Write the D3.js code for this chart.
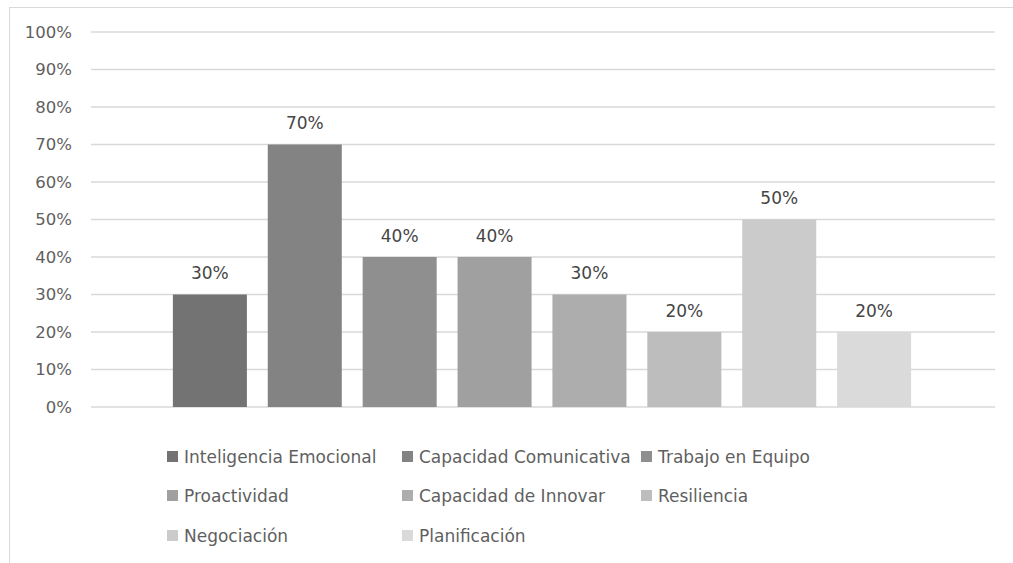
<!DOCTYPE html>
<html><head><meta charset="utf-8">
<script src="https://cdn.jsdelivr.net/npm/d3@7"></script>
<style>body{margin:0;background:#fff;}svg{display:block;font-family:"DejaVu Sans",sans-serif;}</style>
</head><body>
<svg id="c" width="1013" height="563"></svg>
<script>
const series = ["Inteligencia Emocional","Capacidad Comunicativa","Trabajo en Equipo","Proactividad","Capacidad de Innovar","Resiliencia","Negociación","Planificación"];
const values = [0.30,0.70,0.40,0.40,0.30,0.20,0.50,0.20];
const colors = ["#737373","#838383","#8f8f8f","#a0a0a0","#adadad","#bdbdbd","#cbcbcb","#dadada"];
const yTicks = [0,0.1,0.2,0.3,0.4,0.5,0.6,0.7,0.8,0.9,1.0];

const svg = d3.select("#c");
svg.append("rect").attr("x",9.5).attr("y",7.5).attr("width",1013).attr("height",563)
  .attr("fill","#fff").attr("stroke","#d9d9d9").attr("stroke-width",1);

const plotL = 91, plotR = 995, plotT = 32, plotB = 407;
const y = d3.scaleLinear().domain([0,1]).range([plotB, plotT]);
const x = d3.scaleBand().domain(series).range([152, 932]).padding(0.22);

const grid = svg.append("g");
grid.selectAll("line").data(yTicks).join("line")
  .attr("x1",plotL).attr("x2",plotR)
  .attr("y1",d=>y(d)).attr("y2",d=>y(d))
  .attr("stroke","#d9d9d9").attr("stroke-width",1.3);

const yAxis = d3.axisLeft(y).tickValues(yTicks).tickFormat(d3.format(".0%")).tickSize(0).tickPadding(0);
const ga = svg.append("g").attr("transform",`translate(72,0)`).call(yAxis);
ga.select(".domain").remove();
ga.selectAll("text").attr("fill","#5f5f5f").attr("font-size",16.5).attr("font-family","'DejaVu Sans',sans-serif");

svg.append("g").selectAll("rect").data(series).join("rect")
  .attr("x",d=>x(d)).attr("width",x.bandwidth())
  .attr("y",(d,i)=>y(values[i])).attr("height",(d,i)=>plotB-y(values[i]))
  .attr("fill",(d,i)=>colors[i]);

svg.append("g").selectAll("text").data(series).join("text")
  .attr("x",d=>x(d)+x.bandwidth()/2)
  .attr("y",(d,i)=>y(values[i])-21)
  .attr("dy","0.35em")
  .attr("text-anchor","middle").attr("fill","#454545").attr("font-size",17)
  .text((d,i)=>d3.format(".0%")(values[i]));

const colX = [167,402,641];
const rowY = [457,496,536];
const leg = svg.append("g").selectAll("g").data(series).join("g")
  .attr("transform",(d,i)=>`translate(${colX[i%3]},${rowY[Math.floor(i/3)]})`);
leg.append("rect").attr("x",0).attr("y",-6).attr("width",11).attr("height",11)
  .attr("fill",(d,i)=>colors[i]);
leg.append("text").attr("x",17).attr("dy","0.35em").attr("fill","#5f5f5f").attr("font-size",17)
  .text(d=>d);
</script>
</body></html>
